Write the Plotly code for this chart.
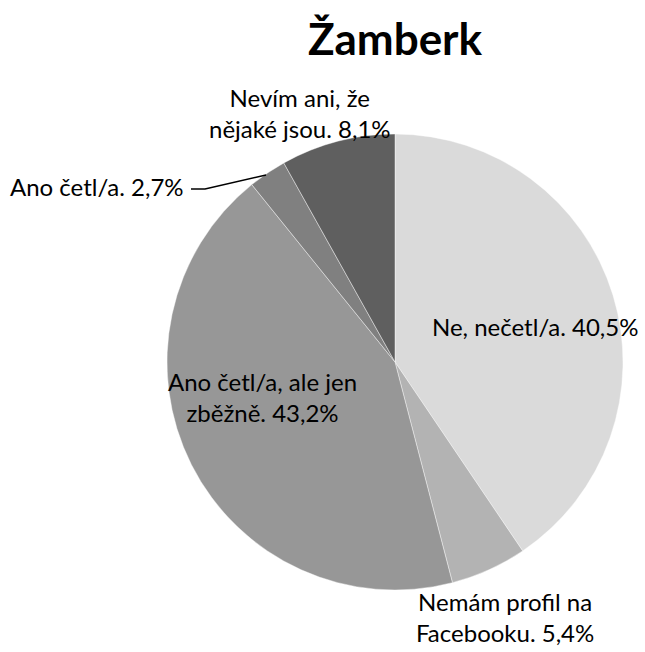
import plotly.graph_objects as go

categories = ["Ne, nečetl/a.", "Nemám profil na Facebooku.", "Ano četl/a, ale jen zběžně.",
              "Ano četl/a.", "Nevím ani, že nějaké jsou."]
values = [40.5, 5.4, 43.2, 2.7, 8.1]
colors = ["#dadada", "#b3b3b3", "#979797", "#808080", "#5f5f5f"]
label_texts = ["Ne, nečetl/a. 40,5%",
               "Nemám profil na<br>Facebooku. 5,4%",
               "Ano četl/a, ale jen<br>zběžně. 43,2%",
               "Ano četl/a. 2,7%",
               "Nevím ani, že<br>nějaké jsou. 8,1%"]
label_pos = [(535, 326), (505, 617), (262, 397), (97, 186), (300, 113)]

W, H = 645, 652
cx, cy, r = 395, 362, 228

fig = go.Figure(go.Pie(
    labels=categories, values=values, sort=False, direction="clockwise", rotation=0,
    marker=dict(colors=colors, line=dict(color="rgba(255,255,255,0.6)", width=0.7)),
    textinfo="none", hoverinfo="label+percent", showlegend=False,
    domain=dict(x=[(cx - r) / W, (cx + r) / W], y=[1 - (cy + r) / H, 1 - (cy - r) / H]),
))

font = dict(family="Lato, Carlito, 'Open Sans', sans-serif", size=24, color="#000000")
for txt, (x, y) in zip(label_texts, label_pos):
    fig.add_annotation(x=x / W, y=1 - y / H, xref="paper", yref="paper",
                       text=txt, showarrow=False, font=font,
                       xanchor="center", yanchor="middle", align="center")

# leader line for the small slice
pts = [(191, 189), (205, 189), (266, 175)]
path = "M " + " L ".join(f"{px / W},{1 - py / H}" for px, py in pts)
fig.add_shape(type="path", path=path, xref="paper", yref="paper",
              line=dict(color="#000000", width=1.5))

fig.update_layout(
    width=W, height=H, margin=dict(l=0, r=0, t=0, b=0),
    paper_bgcolor="white", plot_bgcolor="white",
    title=dict(text="<b>Žamberk</b>", x=395 / W, xanchor="center", y=1 - 40 / H, yanchor="middle",
               font=dict(family="Lato, Carlito, 'Open Sans', sans-serif", size=44, color="#000000")),
)

fig.write_html("out.html", config={"displayModeBar": False},
               post_script="document.body.style.margin='0';document.body.style.overflow='hidden';")
